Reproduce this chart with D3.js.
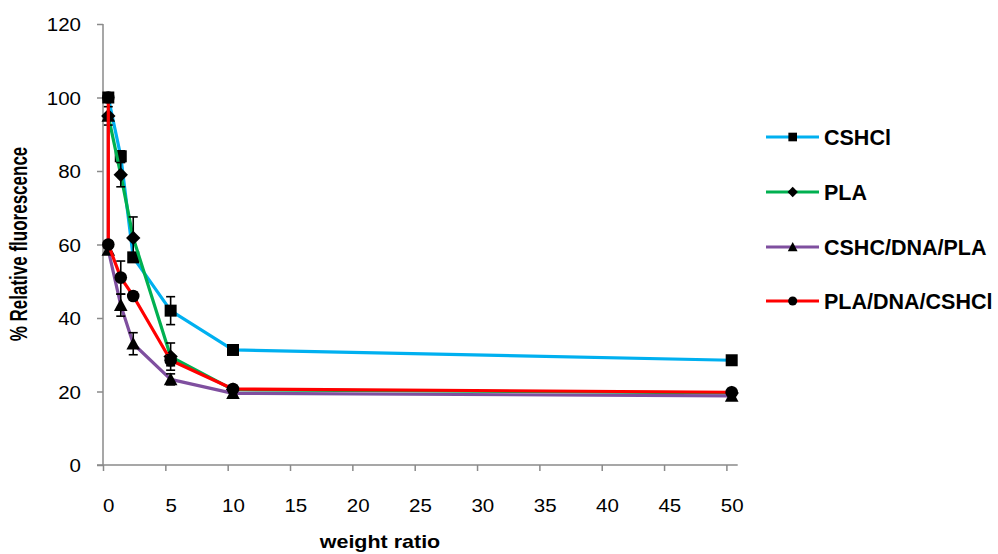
<!DOCTYPE html>
<html>
<head>
<meta charset="utf-8">
<script src="https://cdn.jsdelivr.net/npm/d3@7"></script>
<style>
  body { margin: 0; background: #fff; }
  svg { display: block; }
  text { font-family: "Liberation Sans", Arial, sans-serif; fill: #000; }
</style>
</head>
<body>
<svg id="chart" width="998" height="554"></svg>
<script>
// Weight ratios (the two series built from a blank start twice at 0)
const weightRatio = [0, 1, 2, 5, 10, 50];
const weightRatioBlank = [0, 0, 1, 2, 5, 10, 50];

// % relative fluorescence and standard deviations
const cshclValues = [100, 84, 56.5, 42, 31.3, 28.5];
const cshclErrors = [0, 1.5, 1, 3.8, 0.8, 0.8];
const plaValues = [95, 79, 61.8, 29.5, 20.5, 19.6];
const plaErrors = [2.5, 3.3, 5.7, 3.7, 0.8, 0.8];
const cshcDnaPlaValues = [95, 58.5, 43.5, 33, 23.3, 19.5, 18.8];
const cshcDnaPlaErrors = [0, 1, 3, 3, 1.5, 1, 1];
const plaDnaCshclValues = [100, 60, 51, 46, 28.5, 20.7, 19.8];
const plaDnaCshclErrors = [0, 1, 4.5, 1, 1.5, 0.8, 0.8];

const seriesNames = ["CSHCl", "PLA", "CSHC/DNA/PLA", "PLA/DNA/CSHCl"];
const seriesColors = ["#00b0f0", "#00b050", "#7f4f9f", "#ff0000"];
const seriesMarkers = ["square", "diamond", "triangle", "circle"];

const xTicks = [0, 5, 10, 15, 20, 25, 30, 35, 40, 45, 50];
const yTicks = [0, 20, 40, 60, 80, 100, 120];

const xTitle = "weight ratio";
const yTitle = "% Relative fluorescence";

const series = [
  { name: seriesNames[0], xs: weightRatio, ys: cshclValues, es: cshclErrors },
  { name: seriesNames[1], xs: weightRatio, ys: plaValues, es: plaErrors },
  { name: seriesNames[2], xs: weightRatioBlank, ys: cshcDnaPlaValues, es: cshcDnaPlaErrors },
  { name: seriesNames[3], xs: weightRatioBlank, ys: plaDnaCshclValues, es: plaDnaCshclErrors }
].map((s, i) => ({
  ...s,
  color: seriesColors[i],
  marker: seriesMarkers[i],
  points: s.xs.map((x, j) => ({ x, y: s.ys[j], e: s.es[j] }))
}));

// layout
const tickShift = 5.3;   // tick marks sit slightly left of the labels
const x = d3.scaleLinear().domain([0, 50]).range([108.3, 731.7]);
const y = d3.scaleLinear().domain([0, 120]).range([465, 24]);
const axisX = x.range()[0] - tickShift;
const axisColor = "#8a8a8a";

const svg = d3.select("#chart");

// x axis
const gx = svg.append("g")
  .attr("transform", `translate(0,${y(0)})`)
  .call(d3.axisBottom(x).tickValues(xTicks).tickSize(6).tickSizeOuter(0).tickFormat(d3.format("d")));
gx.select(".domain").remove();
gx.selectAll(".tick line")
  .attr("transform", `translate(${-tickShift},0)`)
  .attr("stroke", axisColor).attr("stroke-width", 1.5);
gx.selectAll(".tick text")
  .attr("y", 0).attr("dy", 0)
  .attr("transform", "translate(0,47) scale(1.08,1)")
  .attr("font-size", 19).attr("fill", "#000");
gx.append("line")
  .attr("x1", axisX - 6).attr("x2", x(50) + 6)
  .attr("stroke", axisColor).attr("stroke-width", 1.5);

// y axis
const gy = svg.append("g")
  .attr("transform", `translate(${axisX},0)`)
  .call(d3.axisLeft(y).tickValues(yTicks).tickSize(6).tickSizeOuter(0).tickFormat(d3.format("d")));
gy.select(".domain").remove();
gy.selectAll(".tick line").attr("stroke", axisColor).attr("stroke-width", 1.5);
gy.selectAll(".tick text")
  .attr("x", 0).attr("dy", "0.36em")
  .attr("transform", "translate(-22,0) scale(1.08,1)")
  .attr("font-size", 19).attr("fill", "#000");
gy.append("line")
  .attr("y1", y(120)).attr("y2", y(0))
  .attr("stroke", axisColor).attr("stroke-width", 1.5);

// axis titles
svg.append("text")
  .attr("transform", "translate(380,548) scale(1.18,1)")
  .attr("text-anchor", "middle")
  .attr("font-size", 18.2).attr("font-weight", "bold")
  .text(xTitle);
svg.append("text")
  .attr("transform", "translate(26.5,244) scale(1.4,1) rotate(-90)")
  .attr("text-anchor", "middle")
  .attr("font-size", 17).attr("font-weight", "bold")
  .text(yTitle);

// marker shapes
function markerPath(kind, scale) {
  const k = scale || 1;
  if (kind === "square") { const h = 6 * k; return `M${-h},${-h}H${h}V${h}H${-h}Z`; }
  if (kind === "diamond") { const h = 7.2 * k; return `M0,${-h}L${h},0L0,${h}L${-h},0Z`; }
  if (kind === "triangle") { const h = 6.8 * k; return `M0,${-h}L${h},${h * 0.85}L${-h},${h * 0.85}Z`; }
  const r = 6.3 * k;
  return `M${r},0A${r},${r} 0 1,1 ${-r},0A${r},${r} 0 1,1 ${r},0Z`;
}

// series
const line = d3.line().x(d => x(d.x)).y(d => y(d.y));

series.forEach(s => {
  const g = svg.append("g");
  g.append("path")
    .datum(s.points)
    .attr("d", line)
    .attr("fill", "none")
    .attr("stroke", s.color)
    .attr("stroke-width", 3.2)
    .attr("stroke-linejoin", "round");

  const eb = g.selectAll(".err").data(s.points.filter(p => p.e > 0)).join("g")
    .attr("stroke", "#000").attr("stroke-width", 1.6);
  eb.append("line")
    .attr("x1", d => x(d.x)).attr("x2", d => x(d.x))
    .attr("y1", d => y(d.y - d.e)).attr("y2", d => y(d.y + d.e));
  [-1, 1].forEach(k => {
    eb.append("line")
      .attr("x1", d => x(d.x) - 4.5).attr("x2", d => x(d.x) + 4.5)
      .attr("y1", d => y(d.y + k * d.e)).attr("y2", d => y(d.y + k * d.e));
  });

  g.selectAll(".mk").data(s.points).join("path")
    .attr("transform", d => `translate(${x(d.x)},${y(d.y)})`)
    .attr("d", markerPath(s.marker))
    .attr("fill", "#000");
});

// legend
const legend = svg.append("g").attr("transform", "translate(766,0)");
const legendRows = [137, 192, 247, 301];
series.forEach((s, i) => {
  const row = legend.append("g").attr("transform", `translate(0,${legendRows[i]})`);
  row.append("line").attr("x1", 0).attr("x2", 53)
    .attr("stroke", s.color).attr("stroke-width", 3.2);
  row.append("path")
    .attr("transform", "translate(26.7,0)")
    .attr("d", markerPath(s.marker, 0.72))
    .attr("fill", "#000");
  row.append("text")
    .attr("transform", "translate(58,0)")
    .attr("dy", "0.36em")
    .attr("font-size", 21.5).attr("font-weight", "bold")
    .text(s.name);
});
</script>
</body>
</html>
